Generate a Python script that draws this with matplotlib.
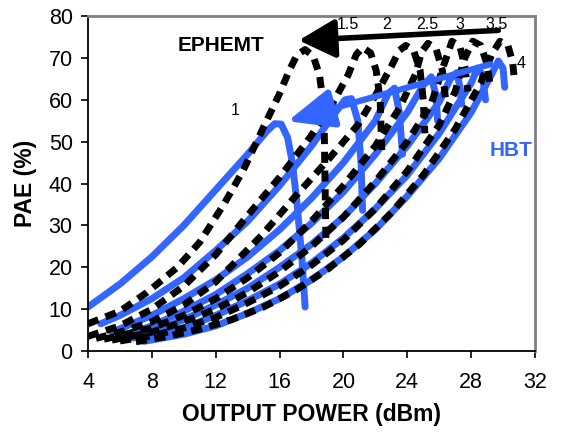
import numpy as np
import matplotlib.pyplot as plt

plt.rcParams['font.family'] = ['Liberation Sans', 'DejaVu Sans']

# HBT curves (blue), Pout (dBm) vs PAE (%)
hbt_pout = [
    [4.0, 6.0, 8.0, 10.0, 12.0, 14.0, 15.2, 15.7, 16.1, 16.5, 16.8, 17.1, 17.4, 17.6],
    [4.8, 6.0, 8.0, 10.0, 12.0, 14.0, 16.0, 18.0, 19.5, 20.1, 20.5, 20.9, 21.1, 21.2],
    [5.5, 8.0, 10.0, 12.0, 14.0, 16.0, 18.0, 20.0, 22.0, 22.8, 23.2, 23.5, 23.7],
    [6.2, 8.0, 10.0, 12.0, 14.0, 16.0, 18.0, 20.0, 22.0, 24.0, 25.0, 25.5, 25.8, 25.9],
    [6.8, 8.0, 10.0, 12.0, 14.0, 16.0, 18.0, 20.0, 22.0, 24.0, 26.0, 26.7, 27.1, 27.3, 27.4],
    [7.2, 10.0, 12.0, 14.0, 16.0, 18.0, 20.0, 22.0, 24.0, 26.0, 28.0, 28.4, 28.7, 28.9],
    [7.5, 10.0, 12.0, 14.0, 16.0, 18.0, 20.0, 22.0, 24.0, 26.0, 28.0, 29.2, 29.7, 30.0, 30.1],
]
hbt_pae = [
    [10.5, 16.0, 22.5, 30.0, 38.5, 47.0, 52.5, 54.3, 54.2, 51.0, 45.0, 35.0, 22.0, 10.5],
    [6.5, 8.5, 12.5, 17.5, 24.0, 31.0, 39.5, 49.0, 57.0, 60.0, 60.3, 55.0, 45.0, 33.6],
    [4.5, 8.5, 12.5, 17.0, 22.5, 29.0, 36.5, 45.0, 55.0, 61.5, 62.8, 57.0, 47.0],
    [3.6, 6.0, 9.5, 13.5, 18.5, 24.0, 30.5, 38.0, 47.0, 57.0, 63.5, 65.5, 61.0, 55.0],
    [3.1, 4.5, 7.5, 11.0, 15.0, 20.0, 25.5, 32.0, 40.0, 49.0, 59.5, 65.0, 66.5, 63.0, 59.0],
    [2.7, 5.5, 8.5, 12.0, 16.0, 21.0, 27.0, 34.0, 42.0, 52.0, 64.0, 67.6, 66.0, 60.0],
    [2.3, 4.0, 6.0, 9.0, 12.5, 17.0, 22.5, 29.0, 37.0, 46.0, 57.0, 65.5, 69.3, 67.5, 63.0],
]

# EPHEMT curves (black dashed), one per drain voltage
ephemt_pout = [
    [4.0, 6.0, 7.7, 9.6, 11.0, 12.5, 13.7, 15.0, 16.0, 16.6, 17.1, 17.6, 18.1, 18.5, 18.7, 18.8, 18.85, 18.9],
    [4.0, 6.0, 8.0, 10.0, 12.0, 13.7, 16.0, 17.9, 19.3, 20.3, 20.8, 21.2, 21.7, 22.05, 22.3, 22.4],
    [4.5, 6.0, 8.0, 10.0, 12.0, 14.9, 17.0, 19.0, 20.9, 22.0, 23.0, 23.5, 23.9, 24.4, 24.8, 25.0, 25.1],
    [5.0, 8.0, 10.0, 12.0, 14.0, 16.0, 18.0, 20.0, 22.0, 23.5, 24.5, 24.9, 25.3, 25.8, 26.2, 26.4],
    [5.5, 8.0, 10.0, 12.0, 14.0, 16.0, 18.0, 20.0, 22.0, 24.0, 25.5, 26.3, 26.8, 27.3, 27.6, 27.8],
    [6.0, 8.0, 10.0, 12.0, 14.0, 16.0, 18.0, 20.0, 22.0, 24.0, 26.0, 27.0, 27.6, 28.1, 28.6, 29.0, 29.2],
    [7.0, 9.0, 11.0, 13.0, 15.0, 17.0, 19.0, 21.0, 23.0, 25.0, 27.0, 28.6, 29.3, 29.8, 30.3, 30.6, 30.7],
]
ephemt_pae = [
    [6.5, 9.5, 14.0, 20.0, 26.0, 35.0, 43.0, 53.5, 61.5, 67.0, 70.8, 72.0, 70.5, 66.0, 60.0, 52.0, 40.0, 27.0],
    [3.5, 6.0, 10.0, 15.5, 23.0, 31.0, 41.5, 51.0, 59.0, 66.0, 70.8, 72.5, 71.2, 67.0, 60.0, 48.0],
    [3.0, 4.5, 7.0, 11.0, 16.5, 27.7, 37.0, 45.5, 54.0, 61.0, 68.0, 71.8, 73.0, 71.8, 67.0, 60.0, 52.0],
    [2.8, 5.5, 8.5, 12.5, 17.5, 23.5, 31.0, 39.5, 49.0, 58.0, 66.0, 71.5, 73.5, 72.2, 67.0, 60.0],
    [2.6, 4.5, 7.0, 10.0, 14.0, 19.0, 25.0, 32.0, 40.5, 50.0, 59.0, 68.5, 74.0, 72.7, 68.0, 62.0],
    [2.4, 3.6, 5.5, 8.0, 11.5, 15.5, 20.5, 26.5, 34.0, 43.0, 54.0, 62.0, 70.0, 74.0, 73.0, 68.5, 63.0],
    [2.2, 3.5, 5.2, 7.5, 10.5, 14.5, 19.5, 25.5, 33.0, 42.0, 53.0, 64.0, 71.0, 74.0, 73.0, 69.0, 65.0],
]

# voltage labels
volt_text = ['1', '1.5', '2', '2.5', '3', '3.5', '4']
volt_x = [13.2, 20.3, 22.7, 25.25, 27.3, 29.6, 31.1]
volt_y = [57.5, 78.0, 78.0, 78.0, 78.0, 78.0, 68.7]

blue = '#3366ff'

fig = plt.figure(figsize=(5.62, 4.36), dpi=100)
ax = fig.add_axes([0.1566, 0.195, 0.7954, 0.768])

for xs, ys in zip(hbt_pout, hbt_pae):
    ax.plot(xs, ys, color=blue, lw=5, solid_capstyle='round', solid_joinstyle='round', zorder=2)

for xs, ys in zip(ephemt_pout, ephemt_pae):
    ln, = ax.plot(xs, ys, color='black', lw=5, zorder=3)
    ln.set_dashes((1.6, 1.1))
    ln.set_dash_capstyle('butt')

# trend arrows
ax.annotate('', xy=(17.2, 74.2), xytext=(29.7, 76.6),
            arrowprops=dict(arrowstyle='-|>,head_length=1.6,head_width=0.85', lw=4.0,
                            color='black', shrinkA=0, shrinkB=0, mutation_scale=14), zorder=5)
ax.annotate('', xy=(16.5, 54.9), xytext=(29.2, 68.5),
            arrowprops=dict(arrowstyle='-|>,head_length=2.0,head_width=0.85', lw=4.5,
                            color=blue, shrinkA=0, shrinkB=0, mutation_scale=14), zorder=4)

for t, x, y in zip(volt_text, volt_x, volt_y):
    ax.text(x, y, t, fontsize=11.5, ha='center', va='center', zorder=6)

ax.text(12.34, 73.0, 'EPHEMT', fontsize=15, fontweight='bold', ha='center', va='center')
ax.text(30.5, 48.0, 'HBT', fontsize=15, fontweight='bold', color=blue, ha='center', va='center')

ax.set_xlim(4, 32)
ax.set_ylim(0, 80)
ax.set_xticks(np.arange(4, 33, 4))
ax.set_yticks(np.arange(0, 81, 10))
ax.tick_params(direction='out', length=5, width=1.2, labelsize=15.5, pad=6)
ax.tick_params(axis='x', pad=10)
for s in ['top', 'right']:
    ax.spines[s].set_color('#808080')
    ax.spines[s].set_linewidth(2)
for s in ['left', 'bottom']:
    ax.spines[s].set_color('black')
    ax.spines[s].set_linewidth(1.3)

ax.set_xlabel('OUTPUT POWER (dBm)', fontsize=16.5, fontweight='bold', labelpad=7)
ax.set_ylabel('PAE (%)', fontsize=16.5, fontweight='bold', labelpad=8)

fig.savefig('out.png', dpi=100)
